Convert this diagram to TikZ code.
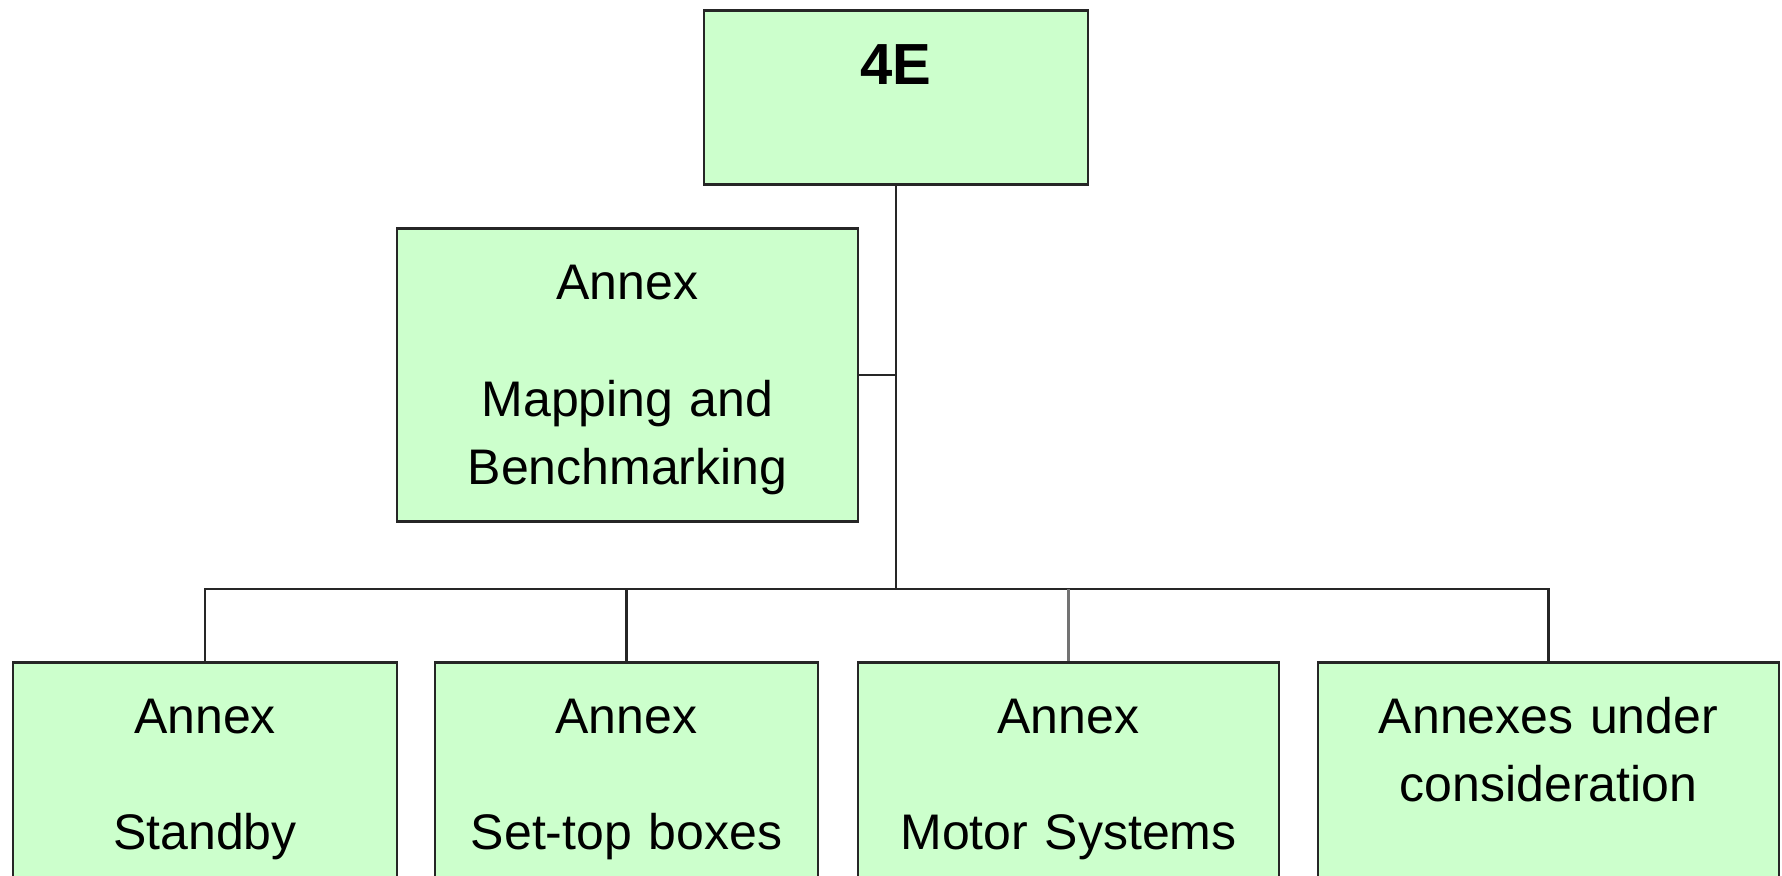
\documentclass[tikz,border=0pt]{standalone}
\usepackage{fontspec}
\setmainfont{Liberation Sans}
\usepackage{tikz}
\definecolor{annexgreen}{HTML}{CCFFCC}

\begin{document}
\begin{tikzpicture}[x=0.5pt, y=-0.5pt,
    annex/.style ={rectangle, draw=black!85, fill=annexgreen, line width=1.25pt,
      anchor=north, inner xsep=0pt, inner ysep=17.5pt, align=center,
      font=\fontsize{25}{34}\selectfont, text height=18pt, text depth=66.5pt},
    link/.style ={draw=black!85, line width=1.25pt}]
   \useasboundingbox (0,0) rectangle (1782,875);

   \node[annex, text width=192pt, inner ysep=16pt, text height=21pt, text depth=34pt,
     font=\fontsize{29}{36}\selectfont\bfseries] (A) at (896,9) {4E};
   \node[annex, text width=230.5pt, text depth=93.5pt] (B) at (627.5,227)
     {Annex\\[24.5pt]Mapping and\\Benchmarking};
   \node[annex, text width=192pt] (C) at (205,661) {Annex\\[24pt]Standby};
   \node[annex, text width=191.5pt] (D) at (626.5,661) {Annex\\[24pt]Set-top boxes};
   \node[annex, text width=210.5pt] (E) at (1068.5,661) {Annex\\[24pt]Motor Systems};
   \node[annex, text width=230.5pt] (F) at (1548.5,661) {Annexes under\\consideration};
   \coordinate (bus) at (896,589);

   \draw[link] (A.south) to (A.south |- bus);
   \draw[link] (B.east) to (B.east -| A.south);
   \draw[link] (C.north) -- (C.north |- bus) -- (F.north |- bus) -- (F.north);
   \draw[link] (D.north) to (D.north |- bus);
   \draw[link, draw=black!55] (E.north) to (E.north |- bus);
\end{tikzpicture}
\end{document}
